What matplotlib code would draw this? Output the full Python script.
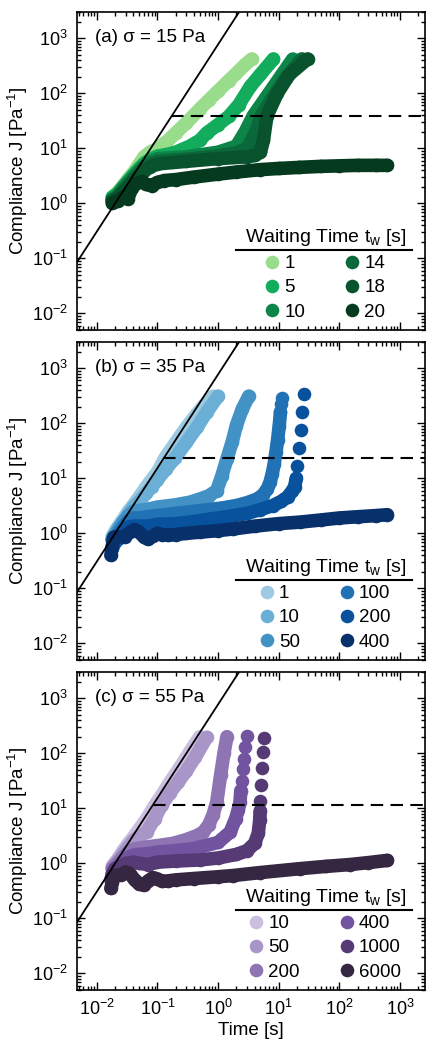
import matplotlib
matplotlib.use("Agg")
import matplotlib.pyplot as plt
from matplotlib.lines import Line2D

plt.rcParams['font.family'] = ['Liberation Sans', 'DejaVu Sans']
plt.rcParams['mathtext.fontset'] = 'custom'
plt.rcParams['mathtext.rm'] = 'Liberation Sans'
plt.rcParams['mathtext.it'] = 'Liberation Sans:italic'
plt.rcParams['mathtext.bf'] = 'Liberation Sans:bold'
plt.rcParams['font.size'] = 13

# ---------------- Panel (a): sigma = 15 Pa ----------------
tw_a = ["1", "5", "10", "14", "18", "20"]
colors_a = ["#98dc8c", "#12ac5c", "#0d8548", "#0b683a", "#08532d", "#053a1e"]

t_a1 = [0.018, 0.022, 0.027, 0.033, 0.04, 0.05, 0.06, 0.075, 0.1, 0.15, 0.2, 0.3, 0.5, 0.7, 1.0, 1.5, 2.0, 2.7, 3.6]
J_a1 = [1.3, 1.6, 2.1, 2.8, 3.6, 5.2, 7.0, 8.5, 10, 14, 19, 29, 52, 75, 110, 170, 230, 320, 420]

t_a5 = [0.018, 0.022, 0.027, 0.033, 0.04, 0.05, 0.06, 0.075, 0.1, 0.14, 0.2, 0.34, 0.5, 0.65, 1.0, 1.5, 2.2, 3.4, 5.0, 8.2]
J_a5 = [1.3, 1.5, 2.0, 2.6, 3.3, 4.3, 5.3, 6.3, 7.2, 7.7, 8.5, 10.9, 14, 19, 27, 38, 62, 133, 220, 420]

t_a10 = [0.018, 0.022, 0.027, 0.033, 0.04, 0.05, 0.06, 0.075, 0.1, 0.3, 1.0, 2.0, 2.8, 3.8, 6.0, 10, 17]
J_a10 = [1.2, 1.4, 1.9, 2.4, 3.0, 3.9, 4.8, 5.8, 6.5, 7.0, 8.5, 10.9, 20, 39, 80, 180, 417]

t_a14 = [0.018, 0.022, 0.027, 0.033, 0.04, 0.05, 0.06, 0.075, 0.1, 0.3, 1.0, 2.0, 3.0, 4.0, 5.2, 8.0, 13, 24]
J_a14 = [1.15, 1.3, 1.7, 2.2, 2.8, 3.6, 4.4, 5.2, 5.8, 6.3, 7.3, 8.3, 10, 18, 39, 85, 190, 420]

t_a18 = [0.018, 0.022, 0.027, 0.033, 0.04, 0.05, 0.06, 0.075, 0.1, 0.3, 1.0, 3.0, 4.0, 5.0, 5.6, 6.4, 9.5, 15, 30]
J_a18 = [1.1, 1.25, 1.6, 2.0, 2.5, 3.2, 3.9, 4.6, 5.2, 5.8, 6.5, 7.0, 7.4, 8.5, 14, 39, 100, 220, 420]

t_a20 = [0.018, 0.022, 0.027, 0.032, 0.038, 0.045, 0.055, 0.065, 0.08, 0.1, 0.13, 0.2, 0.4, 1, 2, 5, 10, 22, 50, 100, 200, 400, 620]
J_a20 = [1.0, 1.1, 1.3, 1.2, 1.9, 2.3, 2.5, 2.2, 2.1, 2.4, 2.6, 2.7, 3.0, 3.4, 3.7, 4.1, 4.3, 4.5, 4.7, 4.8, 4.9, 4.9, 4.9]

# ---------------- Panel (b): sigma = 35 Pa ----------------
tw_b = ["1", "10", "50", "100", "200", "400"]
colors_b = ["#9ecae1", "#6baed6", "#4292c6", "#2171b5", "#08519c", "#08306b"]

t_b1 = [0.018, 0.022, 0.027, 0.033, 0.04, 0.05, 0.065, 0.08, 0.1, 0.133, 0.2, 0.3, 0.45, 0.6, 0.83]
J_b1 = [0.9, 1.3, 1.8, 2.5, 3.3, 4.6, 7, 9.5, 13, 23.5, 45, 85, 150, 220, 310]

t_b10 = [0.018, 0.022, 0.027, 0.033, 0.04, 0.05, 0.065, 0.08, 0.1, 0.14, 0.195, 0.3, 0.45, 0.65, 1.0]
J_b10 = [0.8, 1.2, 1.6, 2.2, 3.0, 3.8, 5.3, 7, 9.5, 15, 23.5, 45, 85, 160, 310]

t_b50 = [0.018, 0.022, 0.027, 0.033, 0.04, 0.05, 0.065, 0.1, 0.2, 0.35, 0.5, 0.7, 0.95, 1.15, 1.4, 1.7, 2.0, 2.5, 3.2]
J_b50 = [0.8, 1.1, 1.6, 2.1, 2.5, 2.6, 2.7, 3.0, 3.3, 3.7, 4.2, 4.8, 6.0, 11, 22.6, 45, 91, 180, 310]

t_b100 = [0.018, 0.022, 0.027, 0.033, 0.04, 0.05, 0.065, 0.1, 0.2, 0.4, 0.7, 1.2, 2.0, 3.0, 4.4, 5.5, 6.5, 7.2, 7.8, 8.4, 9.0, 9.6, 10.2, 10.7]
J_b100 = [0.75, 0.95, 1.3, 1.7, 1.9, 1.9, 2.0, 2.1, 2.3, 2.5, 2.7, 2.9, 3.2, 3.6, 4.2, 5.0, 6.5, 8.5, 12, 18, 30, 50, 90, 160]
t_b100_dots = [11.0, 11.3]
J_b100_dots = [220, 290]

t_b200 = [0.018, 0.022, 0.027, 0.033, 0.04, 0.05, 0.07, 0.1, 0.2, 0.34, 0.7, 1.2, 3.0, 5.0, 8.0, 11, 14, 16.5, 18.3, 19.5]
J_b200 = [0.55, 0.8, 1.1, 1.3, 1.35, 1.35, 1.35, 1.45, 1.5, 1.6, 1.8, 1.95, 2.3, 2.7, 3.2, 3.8, 4.6, 5.8, 7.0, 10]
t_b200_dots = [20.3, 21.5, 22.9, 24.2, 25.7]
J_b200_dots = [16.6, 35, 77, 159, 340]

t_b400 = [0.017, 0.018, 0.019, 0.029, 0.035, 0.042, 0.05, 0.06, 0.07, 0.085, 0.1, 0.12, 0.15, 0.2, 0.3, 0.5, 1, 1.77, 4, 10, 22.6, 50, 100, 200, 400, 620]
J_b400 = [0.4, 0.6, 0.85, 0.87, 1.05, 1.17, 1.05, 0.85, 0.78, 0.9, 1.0, 0.95, 0.92, 0.95, 1.0, 1.05, 1.12, 1.2, 1.35, 1.5, 1.6, 1.75, 1.9, 2.0, 2.1, 2.18]

# ---------------- Panel (c): sigma = 55 Pa ----------------
tw_c = ["10", "50", "200", "400", "1000", "6000"]
colors_c = ["#cbbedf", "#a996c9", "#8f74b3", "#72539f", "#553a76", "#352642"]

t_c10 = [0.018, 0.022, 0.027, 0.033, 0.04, 0.05, 0.065, 0.091, 0.12, 0.16, 0.22, 0.3, 0.4, 0.5]
J_c10 = [0.9, 1.2, 1.7, 2.3, 3.0, 4.2, 6.3, 11.5, 18, 30, 50, 85, 140, 200]

t_c50 = [0.018, 0.022, 0.027, 0.033, 0.04, 0.05, 0.066, 0.09, 0.118, 0.16, 0.22, 0.3, 0.42, 0.65]
J_c50 = [0.85, 1.1, 1.5, 2.0, 2.6, 3.1, 3.7, 6.5, 11.5, 19, 30, 48, 85, 195]

t_c200 = [0.018, 0.022, 0.027, 0.033, 0.04, 0.051, 0.07, 0.1, 0.18, 0.3, 0.45, 0.57, 0.7, 0.82, 0.95, 1.1, 1.25, 1.4]
J_c200 = [0.8, 1.0, 1.3, 1.6, 1.8, 1.9, 2.0, 2.1, 2.3, 2.7, 3.2, 3.7, 5.0, 7.5, 12.9, 40, 100, 200]

t_c400 = [0.018, 0.022, 0.027, 0.033, 0.04, 0.05, 0.07, 0.1, 0.2, 0.4, 1.0, 1.58, 1.95, 2.15, 2.3, 2.37]
J_c400 = [0.65, 0.85, 1.1, 1.3, 1.4, 1.45, 1.5, 1.6, 1.7, 1.85, 2.4, 3.7, 6.5, 9.5, 12.9, 21]
t_c400_dots = [2.46, 2.56, 2.7, 2.8, 2.98]
J_c400_dots = [31.5, 52, 78, 128, 207]

t_c1000 = [0.017, 0.018, 0.02, 0.025, 0.03, 0.04, 0.05, 0.07, 0.1, 0.2, 0.5, 1, 2, 3, 4.0, 4.6, 4.85, 4.95]
J_c1000 = [0.5, 0.65, 0.8, 0.9, 1.0, 1.05, 1.0, 0.95, 1.05, 1.1, 1.15, 1.25, 1.45, 1.7, 2.3, 3.5, 6, 9]
t_c1000_dots = [5.0, 5.2, 5.35, 5.5, 5.8]
J_c1000_dots = [13.8, 27, 53, 104, 190]

t_c6000 = [0.017, 0.018, 0.019, 0.025, 0.03, 0.035, 0.042, 0.05, 0.06, 0.07, 0.085, 0.1, 0.12, 0.15, 0.2, 0.4, 1, 1.77, 5, 22.6, 60, 150, 300, 620]
J_c6000 = [0.35, 0.45, 0.6, 0.62, 0.7, 0.65, 0.5, 0.42, 0.4, 0.48, 0.55, 0.52, 0.47, 0.48, 0.5, 0.53, 0.57, 0.6, 0.68, 0.8, 0.88, 0.95, 1.03, 1.13]

# guide line (black) and threshold (dashed)
guide_t = [0.004, 3.0]
guide_J = [0.065, 5000]
thresh_J = [39, 23.5, 11.5]
thresh_t0 = [0.17, 0.125, 0.083]
panel_titles = ["(a) σ = 15 Pa", "(b) σ = 35 Pa", "(c) σ = 55 Pa"]

xlim = (0.0047, 2600)
ylim = (0.005, 3000)

panels = [
    (tw_a, colors_a, [(t_a1, J_a1), (t_a5, J_a5), (t_a10, J_a10), (t_a14, J_a14), (t_a18, J_a18), (t_a20, J_a20)],
     [None, None, None, None, None, None]),
    (tw_b, colors_b, [(t_b1, J_b1), (t_b10, J_b10), (t_b50, J_b50), (t_b100, J_b100), (t_b200, J_b200), (t_b400, J_b400)],
     [None, None, None, (t_b100_dots, J_b100_dots), (t_b200_dots, J_b200_dots), None]),
    (tw_c, colors_c, [(t_c10, J_c10), (t_c50, J_c50), (t_c200, J_c200), (t_c400, J_c400), (t_c1000, J_c1000), (t_c6000, J_c6000)],
     [None, None, None, (t_c400_dots, J_c400_dots), (t_c1000_dots, J_c1000_dots), None]),
]

fig = plt.figure(figsize=(4.26, 10.40), dpi=100)
bottoms = [0.6827, 0.3654, 0.0481]
left, width, height = 0.1808, 0.817, 0.3058
MS = 9.8

for i, (labels, cols, series, dots) in enumerate(panels):
    ax = fig.add_axes([left, bottoms[i], width, height])
    ax.set_xscale('log')
    ax.set_yscale('log')
    for (t, J), d, c in zip(series, dots, cols):
        ax.plot(t, J, '-o', color=c, lw=MS, ms=MS, mew=0,
                solid_capstyle='round', solid_joinstyle='round', zorder=2)
        if d is not None:
            ax.plot(d[0], d[1], 'o', color=c, ms=MS, mew=0, zorder=2)
    ax.plot(guide_t, guide_J, color='black', lw=1.3, zorder=3)
    ax.hlines(thresh_J[i], thresh_t0[i], 5000, colors='black', lw=1.5,
              linestyles=(0, (6, 3.5)), zorder=3)
    ax.set_xlim(*xlim)
    ax.set_ylim(*ylim)
    ax.tick_params(which='both', direction='in', top=True, right=True, width=1)
    ax.tick_params(which='major', length=5.5, pad=6.5, labelsize=13)
    ax.tick_params(which='minor', length=3)
    for s in ax.spines.values():
        s.set_linewidth(1.2)
    ax.set_ylabel("Compliance J [Pa$^{-1}$]", fontsize=13.5)
    ax.yaxis.set_label_coords(-0.135, 0.5)
    if i < 2:
        ax.tick_params(labelbottom=False)
    else:
        ax.set_xlabel("Time [s]", fontsize=13.5, labelpad=2)
    ax.text(0.052, 0.919, panel_titles[i], transform=ax.transAxes,
            fontsize=13.5, ha='left', va='center')
    handles = [Line2D([], [], marker='o', ls='none', color=c, ms=MS, mew=0) for c in cols]
    leg = ax.legend(handles, labels, ncol=2, loc='lower right',
                    bbox_to_anchor=(0.985, -0.012), frameon=False,
                    title="Waiting Time t$_\\mathregular{w}$ [s]", title_fontsize=14,
                    fontsize=13.5, handlelength=0.6, handletextpad=0.35,
                    columnspacing=2.2, labelspacing=0.38, borderpad=0.2)
    ax.plot([0.458, 0.962], [0.252, 0.252], transform=ax.transAxes,
            color='black', lw=1.5, clip_on=False, zorder=4)

fig.savefig("out.png", dpi=100)
